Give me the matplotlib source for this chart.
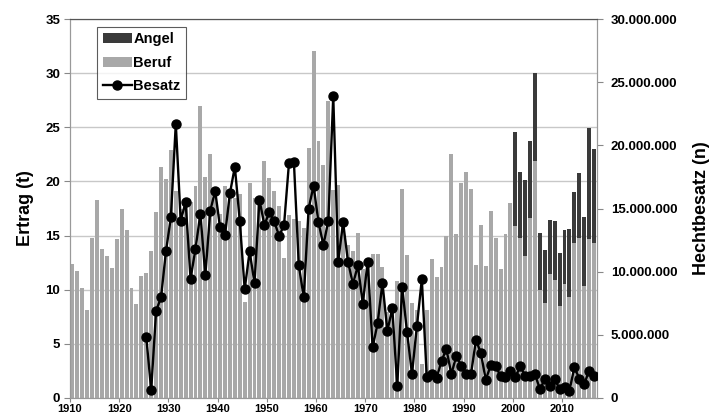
import matplotlib
matplotlib.use("Agg")
import matplotlib.pyplot as plt
import numpy as np
from matplotlib.patches import Patch
from matplotlib.lines import Line2D
from matplotlib.ticker import FuncFormatter

plt.rcParams["font.family"] = ["Liberation Sans", "DejaVu Sans"]

# Ertrag (t), Berufsfischerei, 1910-2016
years = list(range(1910, 2017))
beruf = [
    12.4, 11.7, 10.2, 8.1, 14.75, 18.3, 13.8, 13.1, 12.0, 14.7,   # 1910-1919
    17.5, 15.5, 10.2, 8.7, 11.3, 11.5, 13.6, 17.2, 21.3, 20.2,    # 1920-1929
    22.9, 19.1, 17.5, 18.0, 18.1, 19.6, 27.0, 20.4, 22.5, 19.0,   # 1930-1939
    17.0, 19.6, 19.0, 18.5, 18.8, 8.9, 19.9, 18.5, 18.4, 21.9,    # 1940-1949
    20.3, 19.1, 17.7, 12.9, 16.9, 16.5, 16.3, 15.7, 23.1, 32.0,   # 1950-1959
    23.7, 21.5, 27.4, 19.2, 19.7, 16.0, 14.1, 13.6, 15.2, 11.9,   # 1960-1969
    12.2, 13.3, 13.3, 12.1, 7.9, 8.3, 10.8, 19.3, 13.2, 8.8,      # 1970-1979
    8.1, 3.1, 8.1, 12.8, 11.2, 12.1, 15.0, 22.5, 15.1, 19.9,      # 1980-1989
    20.9, 19.3, 12.3, 16.0, 12.2, 17.3, 14.8, 11.9, 15.1, 18.0,   # 1990-1999
    15.9, 14.8, 13.1, 16.6, 21.85, 10.0, 8.8, 11.45, 10.9, 8.5,   # 2000-2009
    10.5, 9.3, 14.3, 14.75, 10.3, 14.7, 14.3,                     # 2010-2016
]
# Angelfischerei, nur ab 2000 erfasst
angel = [0.0] * 90 + [
    8.65, 6.1, 7.0, 7.1, 8.2, 5.2, 4.9, 4.95, 5.4, 4.9,           # 2000-2009
    5.0, 6.3, 4.7, 6.05, 6.45, 10.2, 8.7,                         # 2010-2016
]

# Hechtbesatz (Mio. Stueck), 1925-2016
besatz_years = list(range(1925, 2017))
besatz_mio = [
    4.82, 0.63, 6.9, 7.96, 11.6,                                  # 1925-1929
    14.3, 21.7, 14.05, 15.5, 9.44, 11.8, 14.6, 9.7, 14.8, 16.4,   # 1930-1939
    13.5, 12.9, 16.2, 18.3, 14.05, 8.6, 11.6, 9.1, 15.7, 13.7,    # 1940-1949
    14.7, 14.0, 12.8, 13.7, 18.6, 18.7, 10.5, 7.96, 15.0, 16.8,   # 1950-1959
    13.9, 12.1, 14.05, 23.9, 10.8, 13.9, 10.8, 9.0, 10.5, 7.46,   # 1960-1969
    10.8, 4.0, 5.9, 9.1, 5.3, 7.1, 0.95, 8.8, 5.2, 1.9,           # 1970-1979
    5.7, 9.4, 1.67, 1.88, 1.56, 2.94, 3.87, 1.88, 3.33, 2.56,     # 1980-1989
    1.9, 1.9, 4.6, 3.55, 1.43, 2.6, 2.5, 1.75, 1.7, 2.14,         # 1990-1999
    1.64, 2.5, 1.77, 1.75, 1.88, 0.69, 1.5, 0.98, 1.53, 0.69,     # 2000-2009
    0.85, 0.58, 2.43, 1.53, 1.09, 2.17, 1.75,                     # 2010-2016
]

BERUF_COLOR = "#a8a8a8"
ANGEL_COLOR = "#3a3a3a"
GRID_COLOR = "#c8c8c8"

fig = plt.figure(figsize=(7.18, 4.17), dpi=100)
ax = fig.add_axes([70 / 718, 19 / 417, 527 / 718, 379 / 417])

# bars sit between the year ticks (Excel style)
x = np.array(years) + 0.5
ax.bar(x, beruf, width=0.8, color=BERUF_COLOR, zorder=2)
ax.bar(x, angel, width=0.8, bottom=beruf, color=ANGEL_COLOR, zorder=2)

ax.set_xlim(1910, 2017.1)
ax.set_ylim(0, 35)
ax.set_yticks(range(0, 36, 5))
ax.set_xticks(range(1910, 2011, 10))
ax.grid(axis="y", color=GRID_COLOR, linewidth=1)
ax.set_axisbelow(True)
ax.set_ylabel("Ertrag (t)", fontsize=13, fontweight="bold", labelpad=8)

for lab in ax.get_yticklabels():
    lab.set_fontweight("bold")
for lab in ax.get_xticklabels():
    lab.set_fontweight("bold")
ax.tick_params(axis="y", labelsize=9.5, length=4, color="#888888", pad=3)
ax.tick_params(axis="x", labelsize=8, length=3, color="#888888", pad=1)

for side in ["left", "right", "bottom"]:
    ax.spines[side].set_color("#999999")
ax.spines["top"].set_color("#555555")

# secondary axis for Besatz
ax2 = ax.twinx()
bx = np.array(besatz_years) + 0.5
ax2.plot(bx, np.array(besatz_mio) * 1e6, color="black", linewidth=1.7,
         marker="o", markersize=6.5, zorder=3)
ax2.set_ylim(0, 30e6)
ax2.set_yticks(np.arange(0, 30e6 + 1, 5e6))
ax2.yaxis.set_major_formatter(
    FuncFormatter(lambda v, p: f"{int(v):,}".replace(",", ".")))
for lab in ax2.get_yticklabels():
    lab.set_fontweight("bold")
ax2.tick_params(axis="y", labelsize=9.5, length=4, color="#888888", pad=6)
ax2.set_ylabel("Hechtbesatz (n)", fontsize=13, fontweight="bold", labelpad=11)
for side in ["left", "right", "bottom"]:
    ax2.spines[side].set_color("#999999")
ax2.spines["top"].set_color("#555555")

handles = [
    Patch(facecolor=ANGEL_COLOR, edgecolor="none"),
    Patch(facecolor=BERUF_COLOR, edgecolor="none"),
    Line2D([], [], color="black", linewidth=1.7, marker="o", markersize=6.5),
]
leg = ax2.legend(handles, ["Angel", "Beruf", "Besatz"],
                 loc="upper left", bbox_to_anchor=(0.051, 0.98),
                 prop={"weight": "bold", "size": 10.5}, frameon=True,
                 fancybox=False, edgecolor="#333333", borderpad=0.4,
                 handlelength=2.0, handletextpad=0.1, labelspacing=0.65,
                 borderaxespad=0)
leg.get_frame().set_linewidth(0.8)

fig.savefig("out.png", dpi=100)
